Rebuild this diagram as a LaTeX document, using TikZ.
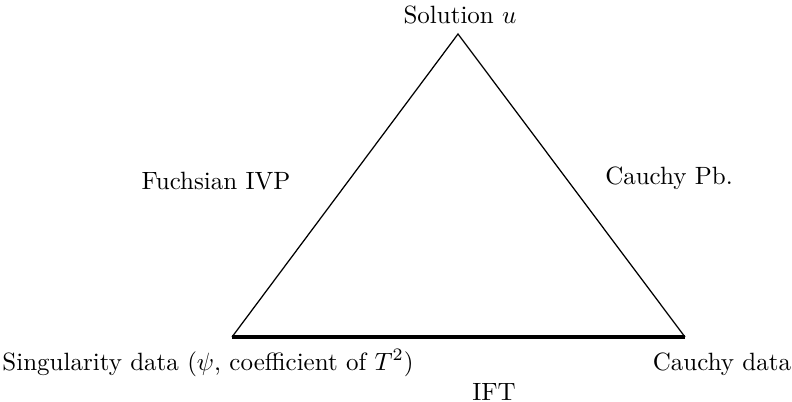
\documentclass[tikz,border=0pt]{standalone}
\usepackage{amsmath,amssymb}
\usetikzlibrary{positioning}

\begin{document}
\begin{tikzpicture}[
  x=0.4pt, y=-0.4pt,
  lbl/.style={inner sep=0pt, anchor=base},
  edge/.style={line width=0.5pt},
  base/.style={line width=1.7pt},
]
  \useasboundingbox (0,0) rectangle (792,401);
  \coordinate (sol) at (458,34);
  \coordinate (sing) at (232,337);
  \coordinate (cdata) at (685,337);
  \node[lbl] (solT) at (460,23) {Solution $u$};
  \node[lbl] (fuchs) at (216,189) {Fuchsian IVP};
  \node[lbl] (cpb) at (669,184) {Cauchy Pb.};
  \node[lbl] (singT) at (208,370) {Singularity data ($\psi$, coefficient of $T^2$)};
  \node[lbl] (cdataT) at (722,370) {Cauchy data};
  \node[lbl] (ift) at (494,400) {IFT};
  \draw[edge] (sing) -- (sol) -- (cdata);
  \draw[base] (sing) -- (cdata);
\end{tikzpicture}
\end{document}
